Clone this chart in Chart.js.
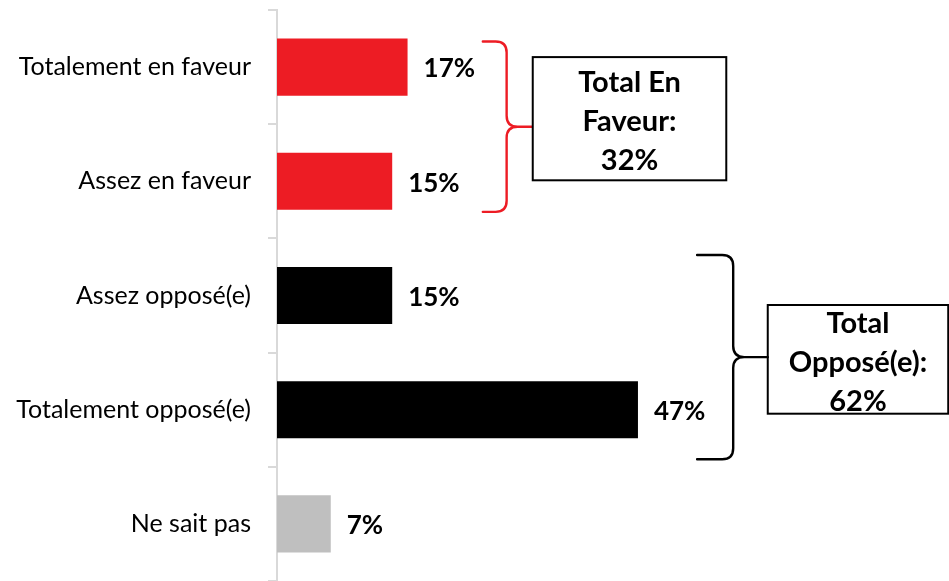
<!DOCTYPE html>
<html>
<head>
<meta charset="utf-8">
<script src="https://cdn.jsdelivr.net/npm/chart.js@4.4.1/dist/chart.umd.min.js"></script>
<style>
  html, body { margin: 0; padding: 0; background: #ffffff; }
  #wrap { width: 949px; height: 581px; position: relative; }
</style>
</head>
<body>
<div id="wrap"><canvas id="c" width="949" height="581"></canvas></div>
<script>
// ---- data ----
const categories = ["Totalement en faveur", "Assez en faveur", "Assez opposé(e)", "Totalement opposé(e)", "Ne sait pas"];
const values = [17, 15, 15, 47, 7];
const barColors = ["#ED1C24", "#ED1C24", "#000000", "#000000", "#BFBFBF"];
const valueLabels = ["17%", "15%", "15%", "47%", "7%"];
const groupFavour = ["Total En", "Faveur:", "32%"];
const groupOpposed = ["Total", "Opposé(e):", "62%"];

const LABEL_FONT = "Lato";

// annotation plugin: value labels, brackets, summary boxes
const annotate = {
  id: "annotate",
  afterDatasetsDraw(chart) {
    const ctx = chart.ctx;
    const x = chart.scales.x, y = chart.scales.y;
    const meta = chart.getDatasetMeta(0);
    ctx.save();
    // value labels
    ctx.font = "bold 26px " + LABEL_FONT;
    ctx.fillStyle = "#000";
    ctx.textBaseline = "middle";
    ctx.textAlign = "left";
    meta.data.forEach((bar, i) => {
      ctx.fillText(valueLabels[i], bar.x + 16, bar.y + 2);
    });
    const half = meta.data[0].height / 2;

    function brace(color, x0, xv, xt, yTop, yBot) {
      const yMid = (yTop + yBot) / 2;
      const r = 11;
      ctx.strokeStyle = color;
      ctx.lineWidth = 2.4;
      ctx.lineCap = "round";
      ctx.beginPath();
      ctx.moveTo(x0, yTop);
      ctx.lineTo(xv - r, yTop);
      ctx.quadraticCurveTo(xv, yTop, xv, yTop + r);
      ctx.lineTo(xv, yMid - r);
      ctx.quadraticCurveTo(xv, yMid, xv + r, yMid);
      ctx.lineTo(xt, yMid);
      ctx.moveTo(xv + r, yMid);
      ctx.quadraticCurveTo(xv, yMid, xv, yMid + r);
      ctx.lineTo(xv, yBot - r);
      ctx.quadraticCurveTo(xv, yBot, xv - r, yBot);
      ctx.lineTo(x0, yBot);
      ctx.stroke();
    }
    function box(lines, left, right, top, bottom) {
      ctx.strokeStyle = "#000";
      ctx.lineWidth = 2;
      ctx.strokeRect(left, top, right - left, bottom - top);
      ctx.font = "bold 29px " + LABEL_FONT;
      ctx.textAlign = "center";
      ctx.textBaseline = "middle";
      ctx.fillStyle = "#000";
      const cx = (left + right) / 2;
      const cy = (top + bottom) / 2 + 3;
      const lh = 39;
      lines.forEach((t, i) => {
        ctx.fillText(t, cx, cy + (i - (lines.length - 1) / 2) * lh);
      });
    }
    const c0 = y.getPixelForValue(0), c1 = y.getPixelForValue(1);
    const c2 = y.getPixelForValue(2), c3 = y.getPixelForValue(3);
    brace("#ED1C24", x.getPixelForValue(26.8), x.getPixelForValue(29.9), x.getPixelForValue(33.2),
          c0 - half + 3, c1 + half + 2);
    box(groupFavour, x.getPixelForValue(33.3), x.getPixelForValue(58.5), c0 - 10, c1 - 1);
    brace("#000000", x.getPixelForValue(54.7), x.getPixelForValue(59.4), x.getPixelForValue(63.9),
          c2 - half - 12, c3 + half + 21);
    box(groupOpposed, x.getPixelForValue(63.9), x.getPixelForValue(87.4), c2 + 9.5, c3 + 4);
    ctx.restore();
  }
};

new Chart(document.getElementById("c"), {
  type: "bar",
  data: {
    labels: categories,
    datasets: [{
      data: values,
      backgroundColor: barColors,
      borderWidth: 0,
      barPercentage: 0.5,
      categoryPercentage: 1.0
    }]
  },
  options: {
    indexAxis: "y",
    responsive: false,
    animation: false,
    devicePixelRatio: 1,
    layout: { padding: { top: 10, bottom: 0, left: 0, right: 0 } },
    plugins: { legend: { display: false }, tooltip: { enabled: false } },
    scales: {
      x: { display: false, min: 0, max: 87.5 },
      y: {
        afterFit(scale) { scale.width = 277; scale.paddingTop = 0; scale.paddingBottom = 0; },
        border: { display: true, color: "#D9D9D9", width: 2 },
        grid: { display: true, drawOnChartArea: false, drawTicks: true, tickLength: 9, color: "#D9D9D9", lineWidth: 2, offset: true },
        ticks: { color: "#000", padding: 17, font: { family: LABEL_FONT, size: 25 } }
      }
    }
  },
  plugins: [annotate]
});
</script>
</body>
</html>
